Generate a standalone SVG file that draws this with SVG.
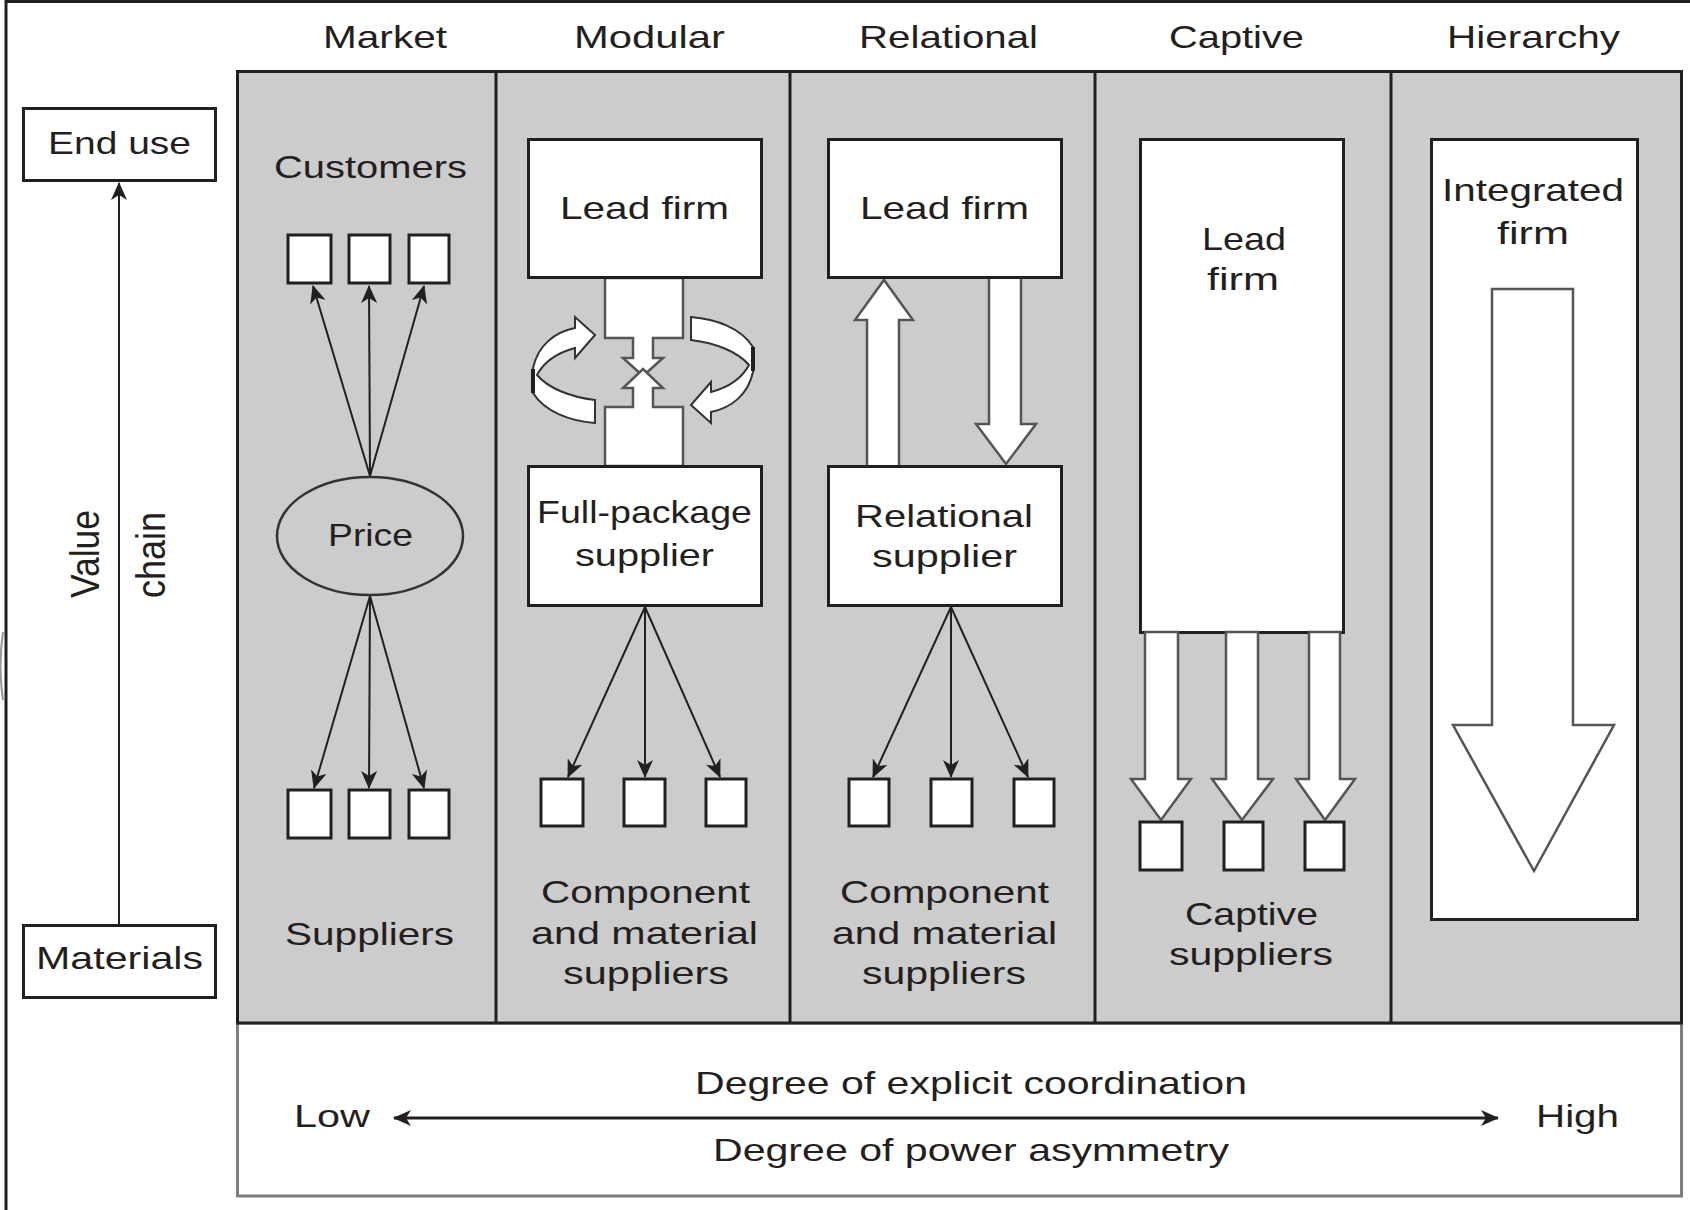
<svg xmlns="http://www.w3.org/2000/svg" width="1690" height="1210" viewBox="0 0 1690 1210">
<defs>
<style>
.t{font-family:"Liberation Sans",Arial,sans-serif;font-size:32px;fill:#231f20}
.box{fill:#fff;stroke:#231f20;stroke-width:3}
.ln{stroke:#231f20;stroke-width:2;fill:none}
.blk{fill:#fff;stroke:#555;stroke-width:2.5;stroke-linejoin:miter}
.div{stroke:#231f20;stroke-width:3}
</style>
<marker id="ah" viewBox="0 0 18 16" refX="17" refY="8" markerWidth="18" markerHeight="16" markerUnits="userSpaceOnUse" orient="auto-start-reverse"><path d="M0,0 L18,8 L0,16 L5,8 Z" fill="#231f20"/></marker>
<path id="swirl" d="M595,335 L575,317 L575,328 C555,332 538,345 533,368 L533,393 C545,412 570,421 595,423 L595,400 C570,397 548,388 537,375 C545,360 560,352 575,348 L575,358 Z" fill="#fff" stroke="#333" stroke-width="2"/>
</defs>
<rect width="1690" height="1210" fill="#fff"/>

<g id="frame">
<line x1="6" y1="0" x2="6" y2="1210" stroke="#231f20" stroke-width="3"/>
<line x1="6" y1="1.5" x2="1690" y2="1.5" stroke="#231f20" stroke-width="3"/>
<path d="M3,632 Q-2,666 3,700" fill="none" stroke="#999" stroke-width="2"/>
</g>

<g id="scale-panel">
<rect x="237.5" y="1023" width="1444" height="173" fill="#fff" stroke="#7f7f7f" stroke-width="3"/>
<text class="t" x="695" y="1094" textLength="552" lengthAdjust="spacingAndGlyphs">Degree of explicit coordination</text>
<text class="t" x="713" y="1161" textLength="516" lengthAdjust="spacingAndGlyphs">Degree of power asymmetry</text>
<text class="t" x="294" y="1127" textLength="76" lengthAdjust="spacingAndGlyphs">Low</text>
<text class="t" x="1536" y="1127" textLength="83" lengthAdjust="spacingAndGlyphs">High</text>
</g>

<g id="panel">
<rect x="237.5" y="71.5" width="1444" height="951.5" fill="#ccc" stroke="#231f20" stroke-width="3"/>
<line class="div" x1="496" y1="71" x2="496" y2="1023"/>
<line class="div" x1="790" y1="71" x2="790" y2="1023"/>
<line class="div" x1="1095" y1="71" x2="1095" y2="1023"/>
<line class="div" x1="1391" y1="71" x2="1391" y2="1023"/>
</g>

<g id="titles">
<text class="t" x="323" y="48" textLength="124" lengthAdjust="spacingAndGlyphs">Market</text>
<text class="t" x="574" y="48" textLength="151" lengthAdjust="spacingAndGlyphs">Modular</text>
<text class="t" x="859" y="48" textLength="179" lengthAdjust="spacingAndGlyphs">Relational</text>
<text class="t" x="1169" y="48" textLength="135" lengthAdjust="spacingAndGlyphs">Captive</text>
<text class="t" x="1447" y="48" textLength="173" lengthAdjust="spacingAndGlyphs">Hierarchy</text>
</g>

<g id="block-arrows">
<polygon class="blk" points="605,278 683,278 683,338 653,338 653,358 663,358 643,376 623,358 633,358 633,338 605,338"/>
<polygon class="blk" points="605,466 683,466 683,407 653,407 653,388 663,388 643,369 623,388 633,388 633,407 605,407"/>
<use href="#swirl"/>
<line x1="533" y1="369" x2="533" y2="393" stroke="#231f20" stroke-width="4"/>
<use href="#swirl" transform="rotate(180 643 370)"/>
<line x1="753" y1="347" x2="753" y2="371" stroke="#231f20" stroke-width="4"/>
<polygon class="blk" points="867,467 899,467 899,320 913,320 884,280 855,320 867,320"/>
<polygon class="blk" points="989,277 1021,277 1021,424 1036,424 1006,464 976,424 989,424"/>
</g>

<g id="end-use">
<rect class="box" x="23.5" y="108.5" width="192" height="72"/>
<text class="t" x="48" y="154" textLength="143" lengthAdjust="spacingAndGlyphs">End use</text>
</g>
<g id="materials">
<rect class="box" x="23.5" y="925.5" width="192" height="72"/>
<text class="t" x="36" y="969" textLength="167" lengthAdjust="spacingAndGlyphs">Materials</text>
</g>
<g id="value-chain-label">
<text class="t" text-anchor="middle" transform="translate(99,554) rotate(-90) scale(1,1.28)" textLength="88" lengthAdjust="spacingAndGlyphs">Value</text>
<text class="t" text-anchor="middle" transform="translate(165,555) rotate(-90) scale(1,1.28)" textLength="86" lengthAdjust="spacingAndGlyphs">chain</text>
</g>

<g id="market">
<text class="t" x="274" y="178" textLength="193" lengthAdjust="spacingAndGlyphs">Customers</text>
<rect class="box" x="288" y="235" width="43" height="48"/>
<rect class="box" x="349" y="235" width="41" height="48"/>
<rect class="box" x="409" y="235" width="40" height="48"/>
<ellipse cx="370" cy="536" rx="93" ry="59" fill="#ccc" stroke="#333" stroke-width="2.5"/>
<text class="t" x="328" y="546" textLength="85" lengthAdjust="spacingAndGlyphs">Price</text>
<rect class="box" x="288" y="790" width="43" height="48"/>
<rect class="box" x="349" y="790" width="41" height="48"/>
<rect class="box" x="409" y="790" width="40" height="48"/>
<text class="t" x="285" y="945" textLength="169" lengthAdjust="spacingAndGlyphs">Suppliers</text>
</g>

<g id="modular">
<rect class="box" x="528.5" y="139.5" width="233" height="138"/>
<text class="t" x="560" y="219" textLength="169" lengthAdjust="spacingAndGlyphs">Lead firm</text>
<rect class="box" x="528.5" y="466.5" width="233" height="139"/>
<text class="t" x="537" y="523" textLength="215" lengthAdjust="spacingAndGlyphs">Full-package</text>
<text class="t" x="575" y="566" textLength="139" lengthAdjust="spacingAndGlyphs">supplier</text>
<rect class="box" x="541" y="779" width="42" height="47"/>
<rect class="box" x="624" y="779" width="41" height="47"/>
<rect class="box" x="706" y="779" width="40" height="47"/>
<text class="t" x="541" y="903" textLength="209" lengthAdjust="spacingAndGlyphs">Component</text>
<text class="t" x="531" y="944" textLength="227" lengthAdjust="spacingAndGlyphs">and material</text>
<text class="t" x="563" y="984" textLength="166" lengthAdjust="spacingAndGlyphs">suppliers</text>
</g>

<g id="relational">
<rect class="box" x="828.5" y="139.5" width="233" height="138"/>
<text class="t" x="860" y="219" textLength="169" lengthAdjust="spacingAndGlyphs">Lead firm</text>
<rect class="box" x="828.5" y="466.5" width="233" height="139"/>
<text class="t" x="855" y="527" textLength="178" lengthAdjust="spacingAndGlyphs">Relational</text>
<text class="t" x="872" y="567" textLength="145" lengthAdjust="spacingAndGlyphs">supplier</text>
<rect class="box" x="849" y="779" width="40" height="47"/>
<rect class="box" x="931" y="779" width="41" height="47"/>
<rect class="box" x="1014" y="779" width="40" height="47"/>
<text class="t" x="840" y="903" textLength="209" lengthAdjust="spacingAndGlyphs">Component</text>
<text class="t" x="832" y="944" textLength="225" lengthAdjust="spacingAndGlyphs">and material</text>
<text class="t" x="862" y="984" textLength="164" lengthAdjust="spacingAndGlyphs">suppliers</text>
</g>

<g id="captive">
<rect class="box" x="1140.5" y="139.5" width="203" height="493"/>
<text class="t" x="1202" y="250" textLength="84" lengthAdjust="spacingAndGlyphs">Lead</text>
<text class="t" x="1207" y="290" textLength="72" lengthAdjust="spacingAndGlyphs">firm</text>
<polygon class="blk" points="1145,632 1178,632 1178,779 1191,779 1161,820 1131,779 1145,779"/>
<polygon class="blk" points="1226,632 1258,632 1258,779 1273,779 1242,820 1212,779 1226,779"/>
<polygon class="blk" points="1309,632 1340,632 1340,779 1355,779 1325,820 1296,779 1309,779"/>
<rect class="box" x="1140" y="822" width="42" height="48"/>
<rect class="box" x="1224" y="822" width="39" height="48"/>
<rect class="box" x="1305" y="822" width="39" height="48"/>
<text class="t" x="1185" y="925" textLength="133" lengthAdjust="spacingAndGlyphs">Captive</text>
<text class="t" x="1169" y="965" textLength="164" lengthAdjust="spacingAndGlyphs">suppliers</text>
</g>

<g id="hierarchy">
<rect class="box" x="1431.5" y="139.5" width="206" height="780"/>
<text class="t" x="1442" y="201" textLength="182" lengthAdjust="spacingAndGlyphs">Integrated</text>
<text class="t" x="1497" y="244" textLength="72" lengthAdjust="spacingAndGlyphs">firm</text>
<polygon class="blk" points="1492,289 1573,289 1573,725 1614,725 1534,871 1453,725 1492,725"/>
</g>

<g id="connectors">
<line class="ln" x1="119" y1="924" x2="119" y2="183" marker-end="url(#ah)"/>
<line class="ln" x1="370" y1="476" x2="313" y2="286" marker-end="url(#ah)"/>
<line class="ln" x1="370" y1="476" x2="369" y2="286" marker-end="url(#ah)"/>
<line class="ln" x1="370" y1="476" x2="424" y2="286" marker-end="url(#ah)"/>
<line class="ln" x1="370" y1="596" x2="314" y2="788" marker-end="url(#ah)"/>
<line class="ln" x1="370" y1="596" x2="369" y2="788" marker-end="url(#ah)"/>
<line class="ln" x1="370" y1="596" x2="424" y2="788" marker-end="url(#ah)"/>
<line class="ln" x1="645" y1="607" x2="568" y2="777" marker-end="url(#ah)"/>
<line class="ln" x1="645" y1="607" x2="645" y2="777" marker-end="url(#ah)"/>
<line class="ln" x1="645" y1="607" x2="720" y2="777" marker-end="url(#ah)"/>
<line class="ln" x1="951" y1="607" x2="873" y2="777" marker-end="url(#ah)"/>
<line class="ln" x1="951" y1="607" x2="951" y2="777" marker-end="url(#ah)"/>
<line class="ln" x1="951" y1="607" x2="1028" y2="777" marker-end="url(#ah)"/>
<line x1="394" y1="1118" x2="1498" y2="1118" stroke="#231f20" stroke-width="3" marker-start="url(#ah)" marker-end="url(#ah)"/>
</g>
</svg>
